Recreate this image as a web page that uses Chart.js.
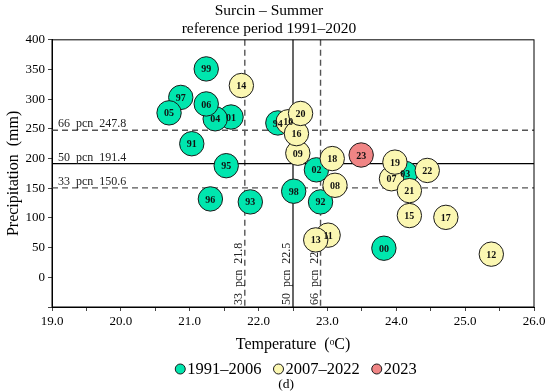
<!DOCTYPE html>
<html>
<head>
<meta charset="utf-8">
<script src="https://cdn.jsdelivr.net/npm/chart.js@4.4.0/dist/chart.umd.min.js"></script>
<style>
  html, body { margin: 0; padding: 0; background: #fff; }
</style>
</head>
<body>
<canvas id="chart" width="550" height="391"></canvas>
<script>
// 1991-2006 years
const labelsA = ['91', '92', '93', '94', '95', '96', '97', '98', '99', '00', '01', '02', '03', '04', '05', '06'];
const tempA = [21.03, 22.90, 21.88, 22.28, 21.53, 21.30, 20.87, 22.51, 21.24, 23.82, 21.60, 22.84, 24.13, 21.37, 20.70, 21.24];
const precA = [225, 127, 127, 260, 188, 132, 303, 145, 351, 49, 270, 181, 175, 267, 277, 292];

// 2007-2022 years
const labelsB = ['07', '08', '09', '10', '11', '12', '13', '14', '15', '16', '17', '18', '19', '20', '21', '22'];
const tempB = [23.93, 23.11, 22.57, 22.43, 23.01, 25.38, 22.83, 21.75, 24.19, 22.55, 24.72, 23.07, 23.98, 22.61, 24.19, 24.45];
const precB = [166, 155, 209, 262, 71, 39, 63, 323, 104, 242, 101, 200, 194, 276, 146, 180];

// 2023
const labelsC = ['23'];
const tempC = [23.49];
const precC = [206];

// percentile reference lines
const pcnNames = ['33', '50', '66'];
const pcnTemp = [21.8, 22.5, 22.9];
const pcnPrec = [150.6, 191.4, 247.8];

const serif = '"Liberation Serif", "Times New Roman", serif';

function points(xs, ys) {
    return xs.map((x, i) => ({ x: x, y: ys[i] }));
}

// higher order is drawn first, so the later periods sit on top
function makeSet(name, xs, ys, names, fill, order) {
    return {
        label: name,
        data: points(xs, ys),
        yearLabels: names,
        order: order,
        backgroundColor: fill,
        borderColor: '#1a1a1a',
        borderWidth: 1,
        pointRadius: 12.2,
        pointHoverRadius: 12.2
    };
}

// reference lines under the bubbles
const pcnLines = {
    id: 'pcnLines',
    beforeDatasetsDraw(chart) {
        const { ctx, chartArea: a, scales: { x, y } } = chart;
        ctx.save();
        ctx.font = '12px ' + serif;
        ctx.fillStyle = '#222';
        pcnNames.forEach((n, i) => {
            const dashed = n !== '50';
            ctx.strokeStyle = dashed ? '#555' : '#000';
            ctx.lineWidth = dashed ? 1.4 : 1.2;
            ctx.setLineDash(dashed ? [6, 4] : []);

            const py = y.getPixelForValue(pcnPrec[i]);
            ctx.beginPath();
            ctx.moveTo(a.left, py);
            ctx.lineTo(a.right, py);
            ctx.stroke();

            const px = x.getPixelForValue(pcnTemp[i]);
            ctx.beginPath();
            ctx.moveTo(px, a.top);
            ctx.lineTo(px, a.bottom);
            ctx.stroke();

            ctx.textAlign = 'left';
            ctx.textBaseline = 'alphabetic';
            ctx.fillText(n + '  pcn  ' + pcnPrec[i].toFixed(1), a.left + 6, py - 3);

            ctx.save();
            ctx.translate(px - 3, a.bottom - 2);
            ctx.rotate(-Math.PI / 2);
            ctx.fillText(n + '  pcn  ' + pcnTemp[i].toFixed(1), 0, 0);
            ctx.restore();
        });
        ctx.setLineDash([]);
        ctx.strokeStyle = '#000';
        ctx.lineWidth = 1;
        ctx.strokeRect(a.left, a.top, a.right - a.left, a.bottom - a.top);
        ctx.restore();
    }
};

// year numbers on top of all bubbles
const yearLabels = {
    id: 'yearLabels',
    afterDatasetsDraw(chart) {
        const { ctx } = chart;
        ctx.save();
        ctx.font = 'bold 10px ' + serif;
        ctx.fillStyle = '#111';
        ctx.textAlign = 'center';
        ctx.textBaseline = 'middle';
        chart.data.datasets.forEach((ds, di) => {
            chart.getDatasetMeta(di).data.forEach((pt, i) => {
                ctx.fillText(ds.yearLabels[i], pt.x, pt.y + 1);
            });
        });
        ctx.restore();
    }
};

// legend row and panel letter under the x axis
const bottomLegend = {
    id: 'bottomLegend',
    afterDraw(chart) {
        const { ctx } = chart;
        const sets = chart.data.datasets;
        const r = 5, gap = 2, space = 12;
        ctx.save();
        ctx.font = '16.5px ' + serif;
        const widths = sets.map(ds => 2 * r + gap + ctx.measureText(ds.label).width);
        const total = widths.reduce((s, w) => s + w, 0) + space * (sets.length - 1);
        let x = 296 - total / 2;
        const y = 369;
        ctx.textBaseline = 'middle';
        ctx.textAlign = 'left';
        sets.forEach((ds, i) => {
            ctx.beginPath();
            ctx.arc(x + r, y, r, 0, Math.PI * 2);
            ctx.fillStyle = ds.backgroundColor;
            ctx.fill();
            ctx.strokeStyle = '#1a1a1a';
            ctx.lineWidth = 1;
            ctx.stroke();
            ctx.fillStyle = '#000';
            ctx.fillText(ds.label, x + 2 * r + gap, y + 1);
            x += widths[i] + space;
        });
        ctx.font = '13.5px ' + serif;
        ctx.textAlign = 'center';
        ctx.fillText('(d)', 286, 384);
        ctx.restore();
    }
};

new Chart(document.getElementById('chart'), {
    type: 'scatter',
    data: {
        datasets: [
            makeSet('1991–2006', tempA, precA, labelsA, '#00E6AE', 3),
            makeSet('2007–2022', tempB, precB, labelsB, '#FBF7B2', 2),
            makeSet('2023', tempC, precC, labelsC, '#F08585', 1)
        ]
    },
    options: {
        responsive: false,
        animation: false,
        layout: { padding: { left: 4, right: 16, top: 0, bottom: 36 } },
        scales: {
            x: {
                type: 'linear',
                min: 19,
                max: 26,
                afterFit(scale) { scale.height = 48; },
                ticks: {
                    stepSize: 0.5,
                    autoSkip: false,
                    maxRotation: 0,
                    padding: 3,
                    color: '#000',
                    font: { family: serif, size: 13 },
                    callback: v => (Math.abs(v - Math.round(v)) < 1e-6 ? Number(v).toFixed(1) : '')
                },
                grid: { drawOnChartArea: false, tickLength: 4, color: '#444' },
                border: { color: '#000' },
                title: {
                    display: true,
                    text: 'Temperature  (ᵒC)',
                    color: '#000',
                    font: { family: serif, size: 16 },
                    padding: { top: 0, bottom: 1 }
                }
            },
            y: {
                min: -50,
                max: 400,
                afterFit(scale) { scale.width = 48; },
                ticks: {
                    stepSize: 50,
                    padding: 3,
                    color: '#000',
                    font: { family: serif, size: 13 },
                    callback: v => (v < 0 ? '' : v)
                },
                grid: { drawOnChartArea: false, tickLength: 4, color: '#444' },
                border: { color: '#000' },
                title: {
                    display: true,
                    text: 'Precipitation  (mm)',
                    color: '#000',
                    font: { family: serif, size: 16 },
                    padding: { top: 0, bottom: 2 }
                }
            }
        },
        plugins: {
            title: {
                display: true,
                text: ['Surcin – Summer', 'reference period 1991–2020'],
                color: '#000',
                font: { family: serif, size: 15.5, weight: 'normal', lineHeight: 1.22 },
                padding: { top: 1, bottom: 1 }
            },
            legend: { display: false },
            tooltip: { enabled: false }
        }
    },
    plugins: [pcnLines, yearLabels, bottomLegend]
});
</script>
</body>
</html>
